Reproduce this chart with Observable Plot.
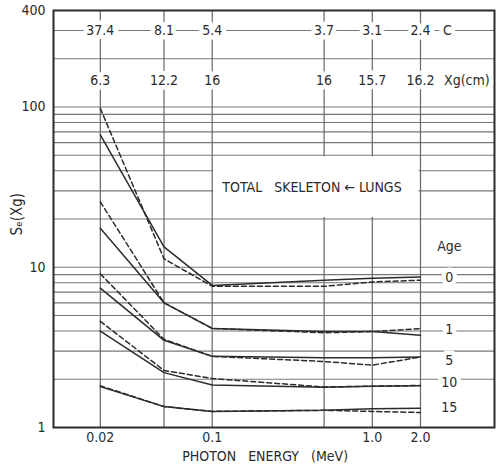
<!DOCTYPE html>
<html><head><meta charset="utf-8">
<script src="https://cdn.jsdelivr.net/npm/d3@7"></script>
<script src="https://cdn.jsdelivr.net/npm/@observablehq/plot@0.6"></script>
<style>body{margin:0;background:#fff} svg{display:block}</style>
</head><body><div id="chart"></div>
<script>
// ---- data ----
const energies = [0.02, 0.05, 0.1, 0.5, 1.0, 2.0];
const energyLabels = ["0.02", "0.05", "0.1", "0.5", "1.0", "2.0"];
const ages = [0, 1, 5, 10, 15];
const solidValues = [
  [67, 13.4, 7.7, 8.3, 8.55, 8.7],
  [17.5, 6.0, 4.15, 3.97, 3.97, 3.77],
  [7.4, 3.5, 2.78, 2.72, 2.72, 2.75],
  [4.0, 2.2, 1.84, 1.78, 1.81, 1.82],
  [1.8, 1.35, 1.26, 1.28, 1.31, 1.32]
];
const dashedValues = [
  [98, 11.3, 7.6, 7.6, 8.1, 8.3],
  [25.6, 6.0, 4.15, 3.9, 3.97, 4.14],
  [9.1, 3.55, 2.78, 2.58, 2.45, 2.75],
  [4.6, 2.27, 2.02, 1.79, 1.81, 1.83],
  [1.82, 1.35, 1.26, 1.28, 1.26, 1.24]
];
const cValues = ["37.4", "8.1", "5.4", "3.7", "3.1", "2.4"];
const xgValues = ["6.3", "12.2", "16", "16", "15.7", "16.2"];
const yTicks = [1, 10, 100, 400];
const yGrid = [2, 3, 4, 5, 6, 7, 8, 9, 10, 20, 30, 40, 50, 60, 70, 80, 90, 100, 200, 300];

// ---- layout of annotations (data space) ----
const rowC = 300, rowXg = 147;
const cLabel = {x: 2.95, y: rowC, text: "C"};
const xgLabel = {x: 3.9, y: rowXg, text: "Xg(cm)"};
const ageLabelX = 3.03;
const ageLabelY = [8.66, 4.1, 2.62, 1.91, 1.33];
const ageTitle = {x: 3.03, y: 13.5, text: "Age"};
const box = {x1: 0.1, x2: 2.0, y1: 20, y2: 50};
const boxText = {x: 0.42, y: 31.6, text: "TOTAL\u00a0\u00a0\u00a0SKELETON\u00a0\u2190\u00a0LUNGS"};

const toRows = (vals) => vals.flatMap((s, i) => s.map((v, j) => ({age: ages[i], energy: energies[j], value: v})));
const solidRows = toRows(solidValues);
const dashedRows = toRows(dashedValues);
const cRows = energies.map((e, i) => ({x: e, y: rowC, text: cValues[i]})).concat([cLabel]);
const xgRows = energies.map((e, i) => ({x: e, y: rowXg, text: xgValues[i]})).concat([xgLabel]);
const ageRows = ages.map((a, i) => ({x: ageLabelX, y: ageLabelY[i], text: String(a)}));

const ink = "#2b2b2b";
const halo = {stroke: "white", strokeWidth: 9, fill: ink, fontSize: 14};

const plot = Plot.plot({
  width: 496, height: 472,
  marginLeft: 53, marginRight: 2, marginTop: 10, marginBottom: 45,
  x: {type: "log", domain: [0.0102, 5.8]},
  y: {type: "log", domain: [1, 400]},
  style: {fontFamily: "'DejaVu Sans Condensed', 'DejaVu Sans', sans-serif", fontSize: "13.5px", color: ink, background: "white"},
  marks: [
    Plot.ruleY(yGrid, {stroke: "#777", strokeWidth: 1.2}),
    Plot.ruleX(energies, {stroke: "#666", strokeWidth: 1.2}),
    Plot.rect([box], {x1: "x1", x2: "x2", y1: "y1", y2: "y2", fill: "white", inset: 1.5}),
    Plot.line(solidRows, {x: "energy", y: "value", z: "age", stroke: ink, strokeWidth: 1.5}),
    Plot.line(dashedRows, {x: "energy", y: "value", z: "age", stroke: ink, strokeWidth: 1.5, strokeDasharray: "5,3"}),
    Plot.axisX(energies, {tickFormat: d => energyLabels[energies.indexOf(d)], tickSize: 0, tickPadding: 5, label: null, fontSize: 14}),
    Plot.axisY(yTicks, {tickFormat: d => String(d), tickSize: 0, tickPadding: 8, label: null, fontSize: 14}),
    Plot.frame({stroke: ink, strokeWidth: 2}),
    Plot.text(cRows, {x: "x", y: "y", text: "text", ...halo}),
    Plot.text(xgRows, {x: "x", y: "y", text: "text", ...halo}),
    Plot.text(ageRows, {x: "x", y: "y", text: "text", ...halo}),
    Plot.text([ageTitle], {x: "x", y: "y", text: "text", fill: ink, fontSize: 14}),
    Plot.text([boxText], {x: "x", y: "y", text: "text", fill: ink, fontSize: 14}),
    Plot.text(["S\u2091(Xg)"], {frameAnchor: "left", y: [15.8], text: d => d, dx: -36, rotate: -90, fill: ink, fontSize: 15}),
    Plot.text(["PHOTON\u00a0\u00a0\u00a0ENERGY\u00a0\u00a0\u00a0(MeV)"], {x: [0.214], frameAnchor: "bottom", text: d => d, dy: 33, fill: ink, fontSize: 14})
  ]
});
document.getElementById("chart").appendChild(plot);
</script>
</body></html>
